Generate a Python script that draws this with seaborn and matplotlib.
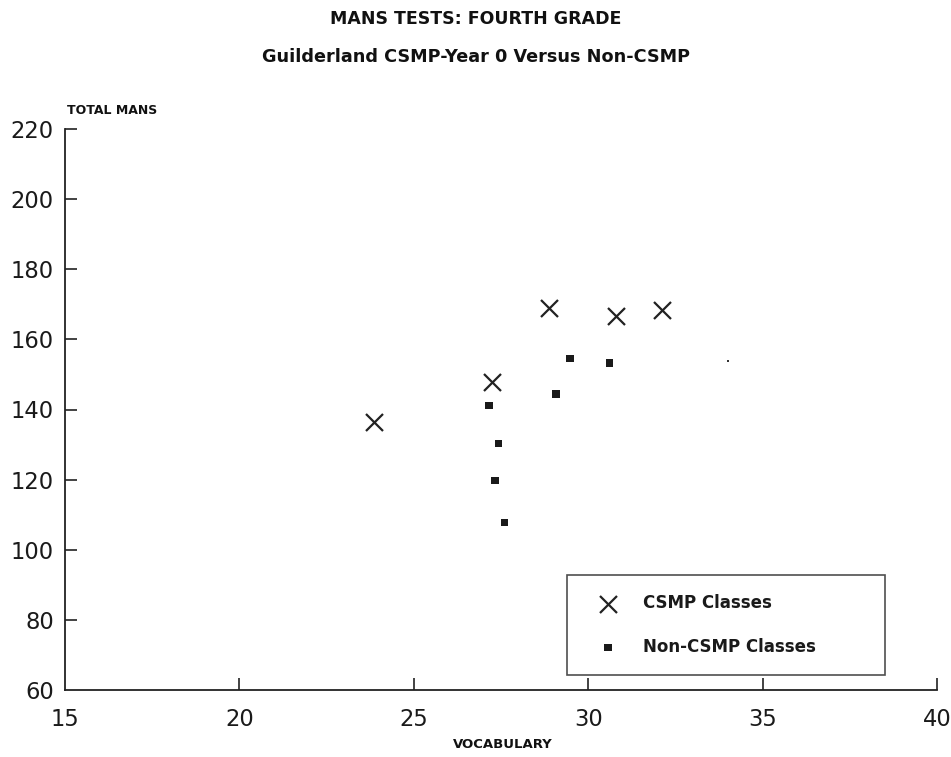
import matplotlib
matplotlib.use("Agg")
import matplotlib.pyplot as plt
import seaborn as sns
import pandas as pd

# Data
csmp_vocab = [23.86, 27.23, 28.88, 30.80, 32.12]
csmp_mans = [136.4, 147.8, 168.9, 166.7, 168.4]
non_vocab = [27.16, 27.43, 27.33, 27.60, 29.08, 29.48, 30.61]
non_mans = [141.1, 130.3, 119.8, 107.8, 144.5, 154.6, 153.3]
faint_vocab = [34.0]
faint_mans = [153.8]

x_ticks = [15, 20, 25, 30, 35, 40]
y_ticks = [60, 80, 100, 120, 140, 160, 180, 200, 220]

title = "MANS TESTS: FOURTH GRADE"
subtitle = "Guilderland CSMP-Year 0 Versus Non-CSMP"
x_label = "VOCABULARY"
y_label = "TOTAL MANS"
legend_labels = ["CSMP Classes", "Non-CSMP Classes"]

sns.set_theme(style="white")
plt.rcParams['font.family'] = ['DejaVu Sans']

csmp_df = pd.DataFrame({"vocab": csmp_vocab, "mans": csmp_mans})
non_df = pd.DataFrame({"vocab": non_vocab, "mans": non_mans})
faint_df = pd.DataFrame({"vocab": faint_vocab, "mans": faint_mans})

W, H = 951, 757
ax_l, ax_r, ax_t, ax_b = 65, 937, 129, 690
fig = plt.figure(figsize=(W / 100, H / 100), dpi=100)
ax = fig.add_axes([ax_l / W, 1 - ax_b / H, (ax_r - ax_l) / W, (ax_b - ax_t) / H])

sns.scatterplot(data=csmp_df, x="vocab", y="mans", marker="x", s=150,
                color="#222222", linewidth=1.6, ax=ax, label=legend_labels[0])
sns.scatterplot(data=non_df, x="vocab", y="mans", marker="s", s=30,
                color="#1a1a1a", edgecolor="none", ax=ax, label=legend_labels[1])
sns.scatterplot(data=faint_df, x="vocab", y="mans", marker="s", s=3,
                color="#333333", edgecolor="none", ax=ax, legend=False)

ax.set_xlim(15, 40)
ax.set_ylim(60, 220)
ax.set_xticks(x_ticks)
ax.set_yticks(y_ticks)
ax.set_xticklabels([str(t) for t in x_ticks], fontsize=16.3)
ax.set_yticklabels([str(t) for t in y_ticks], fontsize=16.3)
ax.tick_params(axis="both", which="major", bottom=True, left=True,
               direction="in", length=8.6, width=1.2, colors="#222222",
               labelcolor="#1a1a1a")
ax.tick_params(axis="x", pad=13)
ax.tick_params(axis="y", pad=8)
ax.xaxis.get_major_ticks()[0].tick1line.set_visible(False)
ax.yaxis.get_major_ticks()[0].tick1line.set_visible(False)

for side in ["top", "right"]:
    ax.spines[side].set_visible(False)
for side in ["left", "bottom"]:
    ax.spines[side].set_color("#222222")
    ax.spines[side].set_linewidth(1.3)

ax.set_xlabel("")
ax.set_ylabel("")
fig.text(503 / W, 1 - 745 / H, x_label, ha="center", va="center",
         fontsize=9.5, fontweight="bold", color="#111111")
fig.text(67 / W, 1 - 111 / H, y_label, ha="left", va="center",
         fontsize=9.0, fontweight="bold", color="#111111")
fig.text(476 / W, 1 - 19 / H, title, ha="center", va="center",
         fontsize=12.5, fontweight="bold", color="#111111")
fig.text(476 / W, 1 - 57 / H, subtitle, ha="center", va="center",
         fontsize=12.7, fontweight="bold", color="#111111")

leg_l, leg_r, leg_t = 567, 885, 575
leg = ax.legend(loc="upper left",
                bbox_to_anchor=((leg_l - ax_l) / (ax_r - ax_l), (ax_b - leg_t) / (ax_b - ax_t),
                                (leg_r - leg_l) / (ax_r - ax_l), 0),
                mode="expand", frameon=True, fancybox=False,
                prop={"size": 12, "weight": "bold"},
                borderpad=1.15, labelspacing=1.55, handletextpad=0.8,
                borderaxespad=0, markerscale=1.0, handlelength=2.6)
leg.get_frame().set_edgecolor("#222222")
leg.get_frame().set_linewidth(1.2)
for t in leg.get_texts():
    t.set_color("#1a1a1a")

fig.savefig("out.png", dpi=100, facecolor="white")
